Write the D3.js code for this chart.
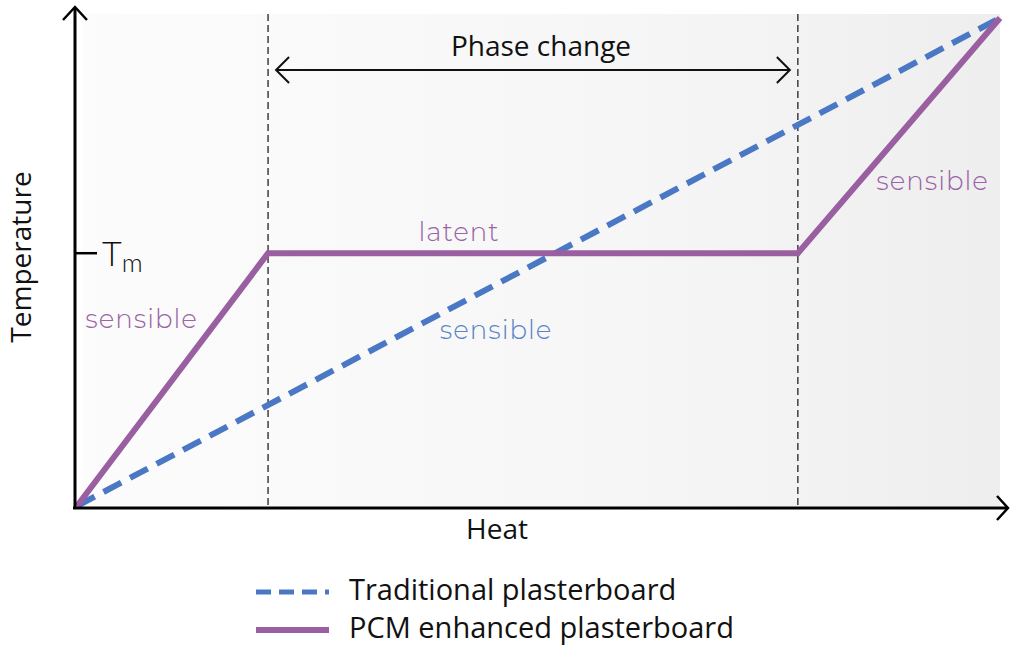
<!DOCTYPE html>
<html><head><meta charset="utf-8">
<script src="https://cdn.jsdelivr.net/npm/d3@7"></script>
<style>html,body{margin:0;padding:0;background:#fff;}svg{display:block;}</style>
</head><body>
<svg id="c" width="1010" height="647"></svg>
<script>
// ---- data ----
const heatDomain = [0, 100];
const tempDomain = [0, 100];
const pcmHeat = [0, 20.7, 78.1, 100];
const pcmTemp = [0, 51.8, 51.8, 100];
const tradHeat = [0, 100];
const tradTemp = [0, 100];
const phaseBounds = [20.7, 78.1];
const tmValue = 51.8;
const legendLabels = ["Traditional plasterboard", "PCM enhanced plasterboard"];
const regionLabels = [
  {text: "sensible", heat: 7.0, temp: 36.5, series: "pcm"},
  {text: "latent", heat: 41.4, temp: 54.3, series: "pcm"},
  {text: "sensible", heat: 45.4, temp: 34.2, series: "trad"},
  {text: "sensible", heat: 92.7, temp: 64.8, series: "pcm"}
];

const colors = {pcm: "#9a5fa1", trad: "#4a78c4"};
const svg = d3.select("#c");
const x = d3.scaleLinear().domain(heatDomain).range([77, 1000]);
const y = d3.scaleLinear().domain(tempDomain).range([506, 18]);

// background panel gradient
const defs = svg.append("defs");
const g = defs.append("linearGradient").attr("id", "bg").attr("x1", "0").attr("x2", "1").attr("y1", "0").attr("y2", "0");
g.append("stop").attr("offset", "0").attr("stop-color", "#fcfcfc");
g.append("stop").attr("offset", "0.6").attr("stop-color", "#f6f6f6");
g.append("stop").attr("offset", "1").attr("stop-color", "#eeeeee");
svg.append("rect").attr("x", 82).attr("y", 14).attr("width", 918).attr("height", 492).attr("fill", "url(#bg)");

// phase change dashed verticals
svg.selectAll("line.phase").data(phaseBounds).enter().append("line")
  .attr("x1", d => x(d)).attr("x2", d => x(d)).attr("y1", 14).attr("y2", 508)
  .attr("stroke", "#222").attr("stroke-width", 1.3).attr("stroke-dasharray", "7,4");

// phase change arrow
const ay = 70;
const ax1 = x(phaseBounds[0]) + 8, ax2 = x(phaseBounds[1]) - 8;
svg.append("line").attr("x1", ax1).attr("x2", ax2).attr("y1", ay).attr("y2", ay).attr("stroke", "#111").attr("stroke-width", 2);
svg.append("path").attr("d", `M${ax1+13},${ay-13}L${ax1},${ay}L${ax1+13},${ay+13}`).attr("fill", "none").attr("stroke", "#111").attr("stroke-width", 2);
svg.append("path").attr("d", `M${ax2-13},${ay-13}L${ax2},${ay}L${ax2-13},${ay+13}`).attr("fill", "none").attr("stroke", "#111").attr("stroke-width", 2);
svg.append("text").attr("x", 541).attr("y", 56).attr("text-anchor", "middle")
  .attr("font-family", "Open Sans, sans-serif").attr("font-size", 28).attr("fill", "#111").text("Phase change");

// lines
const line = d3.line().x(d => x(d[0])).y(d => y(d[1]));
svg.append("path").datum(d3.zip(tradHeat, tradTemp)).attr("d", line)
  .attr("fill", "none").attr("stroke", colors.trad).attr("stroke-width", 6).attr("stroke-dasharray", "20,10");
svg.append("path").datum(d3.zip(pcmHeat, pcmTemp)).attr("d", line)
  .attr("fill", "none").attr("stroke", colors.pcm).attr("stroke-width", 6).attr("stroke-linejoin", "miter");

// region labels
svg.selectAll("text.reg").data(regionLabels).enter().append("text")
  .attr("x", d => x(d.heat)).attr("y", d => y(d.temp)).attr("text-anchor", "middle")
  .attr("font-family", "Montserrat, Lato, sans-serif").attr("font-weight", 300).attr("font-size", 26)
  .attr("letter-spacing", 1)
  .attr("fill", d => d.series === "pcm" ? "#9a64a6" : "#5a86c6").text(d => d.text);

// axes
svg.append("line").attr("x1", 75).attr("x2", 75).attr("y1", 509).attr("y2", 8).attr("stroke", "#000").attr("stroke-width", 3);
svg.append("path").attr("d", "M63,20L75,7L87,20").attr("fill", "none").attr("stroke", "#000").attr("stroke-width", 2.5);
svg.append("line").attr("x1", 73).attr("x2", 1007).attr("y1", 508).attr("y2", 508).attr("stroke", "#000").attr("stroke-width", 3);
svg.append("path").attr("d", "M997,496L1008,508L997,520").attr("fill", "none").attr("stroke", "#000").attr("stroke-width", 2.5);

// Tm tick
svg.append("line").attr("x1", 75).attr("x2", 97).attr("y1", y(tmValue)).attr("y2", y(tmValue)).attr("stroke", "#000").attr("stroke-width", 2.5);
const tm = svg.append("text").attr("x", 102).attr("y", y(tmValue) + 13)
  .attr("font-family", "Lato, sans-serif").attr("font-weight", 300).attr("font-size", 34).attr("fill", "#111");
tm.append("tspan").text("T");
tm.append("tspan").attr("dy", 6).attr("font-size", 26).text("m");

// axis titles
svg.append("text").attr("x", 497).attr("y", 539).attr("text-anchor", "middle")
  .attr("font-family", "Open Sans, sans-serif").attr("font-size", 28).attr("fill", "#111").text("Heat");
svg.append("text").attr("transform", "translate(31,257) rotate(-90)").attr("text-anchor", "middle")
  .attr("font-family", "Open Sans, sans-serif").attr("font-size", 28).attr("fill", "#111").text("Temperature");

// legend
const leg = svg.append("g");
const lrow = [592, 630];
leg.append("line").attr("x1", 256).attr("x2", 329).attr("y1", lrow[0]).attr("y2", lrow[0])
  .attr("stroke", colors.trad).attr("stroke-width", 5).attr("stroke-dasharray", "15,8");
leg.append("line").attr("x1", 256).attr("x2", 329).attr("y1", lrow[1]).attr("y2", lrow[1])
  .attr("stroke", colors.pcm).attr("stroke-width", 6);
leg.selectAll("text").data(legendLabels).enter().append("text")
  .attr("x", 349).attr("y", (d, i) => lrow[i] + 8)
  .attr("font-family", "Open Sans, sans-serif").attr("font-size", 29).attr("fill", "#111").text(d => d);
</script>
</body></html>
